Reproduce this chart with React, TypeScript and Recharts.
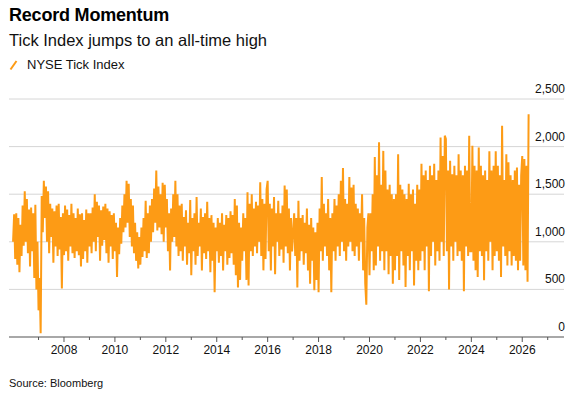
import React from 'react';
import { LineChart, Line, XAxis, YAxis, CartesianGrid } from 'recharts';

// NYSE Tick Index (about two readings a month)
const y2006 = [1000, 1290, 820, 1300, 760, 1250, 680, 1180, 850, 1380, 960, 1530, 1000, 1450, 880, 1340, 740, 1360, 900, 1300, 620, 1390, 500, 1000];
const y2007 = [280, 620, 40, 1480, 1100, 1640, 1250, 1580, 1000, 1530, 880, 1400, 1050, 1350, 780, 1320, 950, 1380, 850, 1400, 920, 1260, 510, 1300];
const y2008 = [860, 1380, 900, 1340, 800, 1280, 950, 1400, 880, 1300, 830, 1250, 900, 1350, 860, 1290, 740, 1300, 820, 1230, 900, 1340, 780, 1300];
const y2009 = [950, 1300, 880, 1360, 1000, 1500, 900, 1420, 1050, 1380, 800, 1330, 960, 1370, 1020, 1400, 880, 1350, 780, 1320, 950, 1280, 820, 1300];
const y2010 = [900, 1200, 630, 1150, 870, 1250, 980, 1380, 1100, 1500, 1150, 1640, 1200, 1610, 1050, 1450, 950, 1380, 880, 1200, 800, 1100, 720, 1050];
const y2011 = [760, 1150, 840, 1250, 900, 1430, 830, 1300, 880, 1380, 1000, 1450, 1100, 1560, 1200, 1750, 1120, 1580, 1150, 1500, 1080, 1620, 1000, 1600];
const y2012 = [1150, 1450, 900, 1300, 700, 1350, 1000, 1500, 1050, 1640, 950, 1500, 850, 1380, 900, 1400, 800, 1260, 950, 1330, 760, 1200, 880, 1440];
const y2013 = [650, 1250, 900, 1300, 760, 1470, 850, 1200, 950, 1350, 700, 1260, 880, 1300, 820, 1420, 900, 1250, 680, 1280, 800, 1200, 470, 1150];
const y2014 = [900, 1250, 780, 1200, 850, 1300, 700, 1180, 900, 1280, 760, 1250, 830, 1320, 880, 1280, 760, 1450, 650, 1380, 520, 1200, 600, 1150];
const y2015 = [800, 1300, 900, 1250, 600, 1520, 540, 1400, 900, 1500, 850, 1350, 950, 1420, 880, 1380, 1000, 1625, 850, 1450, 700, 1400, 820, 1550];
const y2016 = [1640, 900, 1400, 700, 1350, 950, 1470, 660, 1300, 1000, 1430, 850, 1300, 920, 1380, 780, 1590, 950, 1550, 880, 1350, 700, 1250, 900];
const y2017 = [1100, 1300, 850, 1250, 520, 1430, 800, 1250, 900, 1280, 760, 1200, 880, 1350, 700, 1180, 560, 1250, 800, 1150, 490, 1100, 600, 1200];
const y2018 = [470, 1350, 900, 1680, 800, 1400, 950, 1300, 850, 1450, 700, 1250, 470, 1300, 900, 1450, 800, 1380, 950, 1500, 850, 1640, 1000, 1775];
const y2019 = [900, 1450, 800, 1400, 950, 1680, 1000, 1570, 900, 1600, 850, 1400, 950, 1350, 800, 1300, 1000, 1500, 700, 1250, 560, 340, 1150, 1300];
const y2020 = [650, 1300, 900, 1500, 700, 1890, 750, 1700, 950, 2045, 800, 1600, 900, 1955, 700, 1750, 900, 1550, 660, 1600, 850, 1500, 560, 1450];
const y2021 = [700, 1500, 850, 1920, 600, 1600, 900, 1550, 750, 1500, 525, 1450, 850, 1610, 700, 1500, 900, 1550, 540, 1400, 800, 1600, 700, 1550];
const y2022 = [800, 1820, 900, 1700, 700, 1750, 950, 1650, 480, 1800, 850, 1700, 1000, 1820, 750, 1650, 900, 1750, 800, 2095, 1000, 1900, 850, 2115];
const y2023 = [2080, 900, 1750, 500, 1850, 950, 1710, 800, 1800, 1000, 1700, 850, 1920, 900, 1750, 800, 1700, 480, 1800, 950, 1750, 850, 2115, 900];
const y2024 = [900, 2010, 800, 1800, 700, 1750, 630, 1990, 900, 1800, 850, 1700, 595, 1750, 900, 1650, 800, 1950, 1000, 1750, 700, 1800, 850, 1950];
const y2025 = [900, 1800, 800, 1700, 630, 2220, 950, 1650, 850, 1920, 750, 1835, 900, 1700, 750, 1650, 850, 1750, 800, 1780, 700, 1600, 800, 1700];
const y2026 = [1900, 750, 1870, 700, 1800, 580, 2340];

const years = [2006, 2007, 2008, 2009, 2010, 2011, 2012, 2013, 2014, 2015, 2016, 2017, 2018, 2019, 2020, 2021, 2022, 2023, 2024, 2025, 2026];
const series = [y2006, y2007, y2008, y2009, y2010, y2011, y2012, y2013, y2014, y2015, y2016, y2017, y2018, y2019, y2020, y2021, y2022, y2023, y2024, y2025, y2026];
const perYear = 24;

const xTicks = [2007, 2008, 2009, 2010, 2011, 2012, 2013, 2014, 2015, 2016, 2017, 2018, 2019, 2020, 2021, 2022, 2023, 2024, 2025, 2026, 2027];
const yTicks = [0, 500, 1000, 1500, 2000, 2500];

const data = series.flatMap((vals, k) => vals.map((v, i) => ({ t: years[k] + i / perYear, v })));

const FONT = '"Liberation Sans", Arial, Helvetica, sans-serif';
const ORANGE = '#fd9b15';

const XTick = (props: any) => {
  const { x, y, payload } = props;
  const labelled = payload.value % 2 === 0;
  return (
    <g>
      <line x1={x} x2={x} y1={y} y2={y + (labelled ? 5 : 3)} stroke="#555" strokeWidth={1} />
      {labelled && (
        <text x={x} y={y + 17} textAnchor="middle" fontSize={12} fill="#111" fontFamily={FONT}>
          {payload.value}
        </text>
      )}
    </g>
  );
};

const YTick = (props: any) => {
  const { y, payload } = props;
  return (
    <text x={565} y={y - 6} textAnchor="end" fontSize={12} fill="#111" fontFamily={FONT}>
      {payload.value.toLocaleString('en-US')}
    </text>
  );
};

export default function App() {
  return (
    <div style={{ position: 'absolute', left: 0, top: 0, width: 577, height: 398, background: '#fff', fontFamily: FONT, color: '#111' }}>
      <div style={{ position: 'absolute', left: 9, top: 5, fontSize: 18, fontWeight: 700, letterSpacing: -0.2, color: '#000' }}>
        Record Momentum
      </div>
      <div style={{ position: 'absolute', left: 9, top: 31, fontSize: 16.5 }}>
        Tick Index jumps to an all-time high
      </div>
      <div style={{ position: 'absolute', left: 9, top: 57, fontSize: 13, display: 'flex', alignItems: 'center' }}>
        <svg width={10} height={12} style={{ marginRight: 8 }}>
          <line x1={1.5} y1={10.5} x2={7.5} y2={2} stroke={ORANGE} strokeWidth={2} />
        </svg>
        NYSE Tick Index
      </div>
      <div style={{ position: 'absolute', left: 9, top: 377, fontSize: 11 }}>Source: Bloomberg</div>
      <div style={{ position: 'absolute', left: 0, top: 0 }}>
        <LineChart width={577} height={398} data={data} margin={{ top: 99, right: 13, bottom: 31, left: 9 }}>
          <CartesianGrid vertical={false} stroke="#d6d6d6" />
          <XAxis
            dataKey="t"
            type="number"
            domain={[2005.84, 2027.64]}
            ticks={xTicks}
            interval={0}
            height={30}
            tickLine={false}
            tickSize={0}
            tickMargin={0}
            axisLine={{ stroke: '#666', strokeWidth: 1.2 }}
            tick={<XTick />}
          />
          <YAxis
            orientation="right"
            mirror
            domain={[0, 2500]}
            ticks={yTicks}
            interval={0}
            axisLine={false}
            tickLine={false}
            tick={<YTick />}
          />
          <Line type="linear" dataKey="v" stroke={ORANGE} strokeWidth={2} dot={false} isAnimationActive={false} />
        </LineChart>
      </div>
    </div>
  );
}
